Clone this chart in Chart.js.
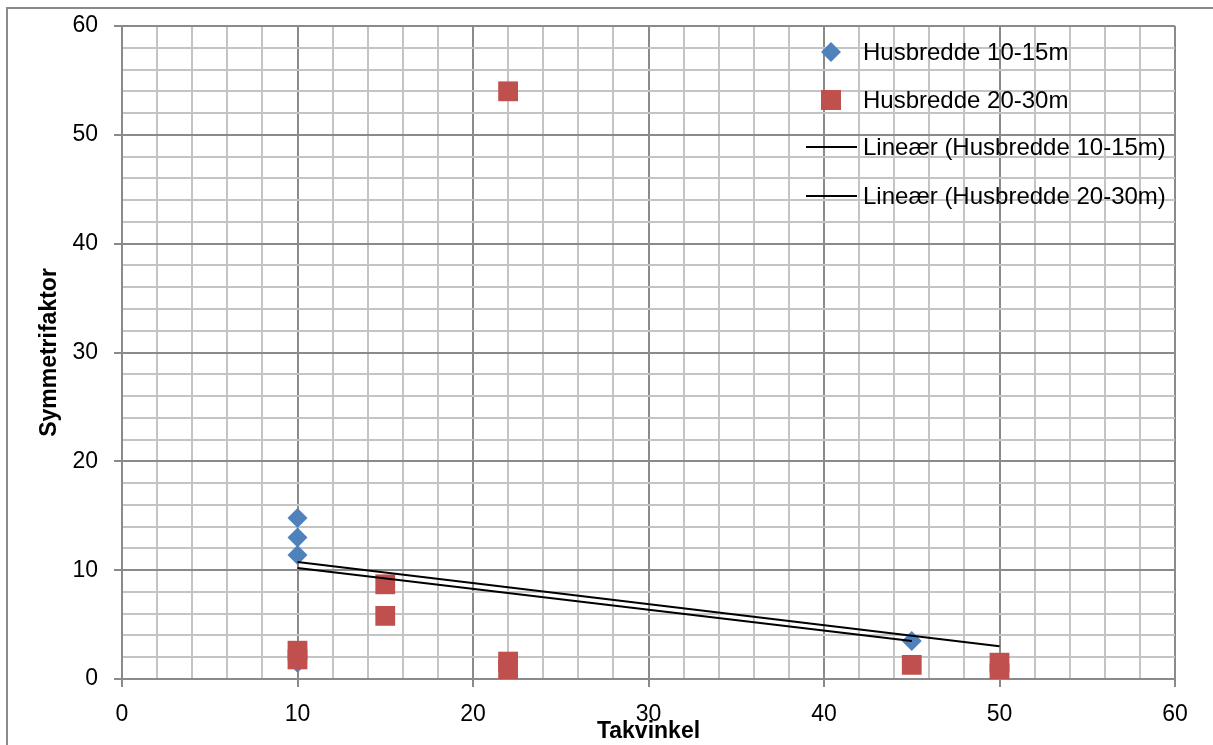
<!DOCTYPE html>
<html>
<head>
<meta charset="utf-8">
<title>Symmetrifaktor</title>
<script src="https://cdn.jsdelivr.net/npm/chart.js@4.4.1/dist/chart.umd.min.js"></script>
<style>
  html, body { margin: 0; padding: 0; background: #fff; }
  #wrap { position: relative; width: 1213px; height: 745px; }
</style>
</head>
<body>
<div id="wrap"><canvas id="symChart"></canvas></div>
<script>
// Takvinkel (x) mot symmetrifaktor (y)
const seriesNames = ['Husbredde 10-15m', 'Husbredde 20-30m'];
const trendNames = ['Lineær (Husbredde 10-15m)', 'Lineær (Husbredde 20-30m)'];

const smallX = [10, 10, 10, 10, 45];
const smallY = [14.8, 13.0, 11.4, 1.5, 3.5];
const wideX = [10, 10, 15, 15, 22, 22, 22, 45, 50, 50];
const wideY = [2.6, 1.8, 8.7, 5.8, 54, 1.6, 0.9, 1.3, 1.5, 0.5];

// trendlinjer (endepunkter)
const trendSmallX = [10, 45];
const trendSmallY = [10.2, 3.5];
const trendWideX = [10, 50];
const trendWideY = [10.75, 3.0];

const axisLabels = [0, 10, 20, 30, 40, 50, 60];

const BLUE = '#4F81BD';
const RED = '#C0504D';
const FONT = '"Liberation Sans", Arial, sans-serif';

const toPoints = (xs, ys) => xs.map((x, i) => ({ x: x, y: ys[i] }));

const majorColor = c => (c.tick && c.tick.value % 10 === 0) ? '#8a8a8a' : '#c4c4c4';
const tickMark = c => (c.tick && c.tick.value % 10 === 0) ? '#8a8a8a' : 'rgba(0,0,0,0)';
const labelCb = v => axisLabels.includes(v) ? String(v) : '';

// hvit bakgrunn og ramme oppe/venstre
const frame = {
  id: 'frame',
  beforeDraw(chart) {
    const ctx = chart.ctx;
    ctx.save();
    ctx.fillStyle = '#fff';
    ctx.fillRect(0, 0, chart.width, chart.height);
    ctx.strokeStyle = '#8a8a8a';
    ctx.lineWidth = 2;
    ctx.beginPath();
    ctx.moveTo(7, chart.height);
    ctx.lineTo(7, 8);
    ctx.lineTo(chart.width, 8);
    ctx.stroke();
    ctx.restore();
  }
};

// forklaring inne i plottet
const legendBox = {
  id: 'legendBox',
  afterDraw(chart) {
    const ctx = chart.ctx;
    const rows = [52, 100, 147, 196];
    const textX = 863;
    ctx.save();
    ctx.font = '24px ' + FONT;
    ctx.textBaseline = 'alphabetic';

    ctx.fillStyle = BLUE;
    ctx.beginPath();
    ctx.moveTo(831, rows[0] - 10);
    ctx.lineTo(841, rows[0]);
    ctx.lineTo(831, rows[0] + 10);
    ctx.lineTo(821, rows[0]);
    ctx.closePath();
    ctx.fill();

    ctx.fillStyle = RED;
    ctx.fillRect(821, rows[1] - 10, 20, 20);

    ctx.strokeStyle = '#000';
    ctx.lineWidth = 2;
    [rows[2], rows[3]].forEach(y => {
      ctx.beginPath();
      ctx.moveTo(806, y);
      ctx.lineTo(857, y);
      ctx.stroke();
    });

    ctx.fillStyle = '#000';
    const names = seriesNames.concat(trendNames);
    names.forEach((name, i) => ctx.fillText(name, textX, rows[i] + 8));
    ctx.restore();
  }
};

new Chart(document.getElementById('symChart'), {
  type: 'scatter',
  data: {
    datasets: [
      {
        label: seriesNames[0],
        data: toPoints(smallX, smallY),
        pointStyle: 'rectRot',
        pointRadius: 10,
        pointBorderWidth: 0,
        backgroundColor: BLUE,
        borderColor: BLUE,
        order: 3
      },
      {
        label: seriesNames[1],
        data: toPoints(wideX, wideY),
        pointStyle: 'rect',
        pointRadius: 14,
        pointBorderWidth: 0,
        backgroundColor: RED,
        borderColor: RED,
        order: 2
      },
      {
        type: 'line',
        label: trendNames[0],
        data: toPoints(trendSmallX, trendSmallY),
        borderColor: '#000',
        borderWidth: 2,
        pointRadius: 0,
        fill: false,
        order: 1
      },
      {
        type: 'line',
        label: trendNames[1],
        data: toPoints(trendWideX, trendWideY),
        borderColor: '#000',
        borderWidth: 2,
        pointRadius: 0,
        fill: false,
        order: 1
      }
    ]
  },
  options: {
    responsive: true,
    maintainAspectRatio: false,
    animation: false,
    events: [],
    layout: { padding: { left: 0, top: 26, right: 38, bottom: 0 } },
    plugins: {
      legend: { display: false },
      tooltip: { enabled: false }
    },
    scales: {
      x: {
        type: 'linear',
        min: 0,
        max: 60,
        afterFit: s => { s.height = 66; s.paddingLeft = 0; s.paddingRight = 0; },
        ticks: {
          stepSize: 2,
          autoSkip: false,
          maxRotation: 0,
          padding: 14,
          color: '#000',
          font: { family: FONT, size: 23 },
          callback: labelCb
        },
        grid: {
          color: majorColor,
          tickColor: tickMark,
          lineWidth: 2,
          tickLength: 8
        },
        border: { color: '#8a8a8a', width: 2 },
        title: {
          display: true,
          text: 'Takvinkel',
          color: '#000',
          font: { family: FONT, size: 23, weight: 'bold' },
          padding: { top: 0, bottom: 0 }
        }
      },
      y: {
        type: 'linear',
        min: 0,
        max: 60,
        afterFit: s => { s.width = 122; s.paddingTop = 0; s.paddingBottom = 0; },
        ticks: {
          stepSize: 2,
          autoSkip: false,
          padding: 16,
          color: '#000',
          font: { family: FONT, size: 23 },
          callback: labelCb
        },
        grid: {
          color: majorColor,
          tickColor: tickMark,
          lineWidth: 2,
          tickLength: 8
        },
        border: { color: '#8a8a8a', width: 2 },
        title: {
          display: true,
          text: 'Symmetrifaktor',
          color: '#000',
          font: { family: FONT, size: 23, weight: 'bold' },
          padding: { top: 36, bottom: 0 }
        }
      }
    }
  },
  plugins: [frame, legendBox]
});
</script>
</body>
</html>
